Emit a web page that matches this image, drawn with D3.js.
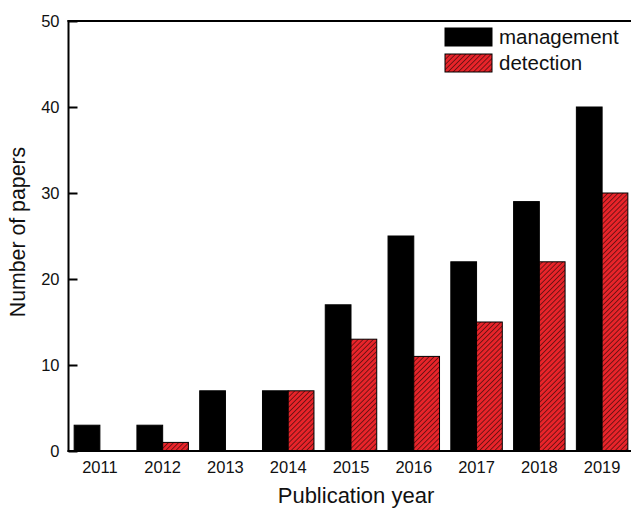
<!DOCTYPE html>
<html>
<head>
<meta charset="utf-8">
<script src="https://cdn.jsdelivr.net/npm/d3@7"></script>
<style>
  html, body { margin: 0; padding: 0; background: #fff; }
  svg { display: block; font-family: "Liberation Sans", Arial, sans-serif; }
</style>
</head>
<body>
<svg id="chart" width="631" height="508"></svg>
<script>
// Publication counts per year
const years = ["2011", "2012", "2013", "2014", "2015", "2016", "2017", "2018", "2019"];
const management = [3, 3, 7, 7, 17, 25, 22, 29, 40];
const detection = [0, 1, 0, 7, 13, 11, 15, 22, 30];
const seriesNames = ["management", "detection"];
const yTicks = [0, 10, 20, 30, 40, 50];

const rows = years.map((y, i) => ({ year: y, management: management[i], detection: detection[i] }));

const svg = d3.select("#chart");
const plot = { left: 68.5, right: 633.5, top: 21, bottom: 451 };

// Hatched red fill for the detection series
const defs = svg.append("defs");
const pat = defs.append("pattern")
  .attr("id", "hatch")
  .attr("patternUnits", "userSpaceOnUse")
  .attr("width", 3.6).attr("height", 3.6)
  .attr("patternTransform", "rotate(45)");
pat.append("rect").attr("width", 3.6).attr("height", 3.6).attr("fill", "#e8242a");
pat.append("line").attr("x1", 0).attr("y1", 0).attr("x2", 0).attr("y2", 3.6)
  .attr("stroke", "#3a0a0a").attr("stroke-width", 1.3);

const x = d3.scaleBand().domain(years).range([plot.left, plot.right])
  .paddingInner(0.18).paddingOuter(0.09);
const xs = d3.scaleBand().domain(seriesNames).range([0, x.bandwidth()]);
const y = d3.scaleLinear().domain([0, 50]).range([plot.bottom, plot.top]);

const fills = { management: "#000", detection: "url(#hatch)" };

// Bars
const groups = svg.append("g").selectAll("g").data(rows).join("g")
  .attr("transform", d => `translate(${x(d.year)},0)`);
groups.selectAll("rect")
  .data(d => seriesNames.map(k => ({ key: k, value: d[k] })).filter(v => v.value > 0))
  .join("rect")
  .attr("x", d => xs(d.key))
  .attr("y", d => y(d.value))
  .attr("width", xs.bandwidth())
  .attr("height", d => y(0) - y(d.value))
  .attr("fill", d => fills[d.key])
  .attr("stroke", "#000")
  .attr("stroke-width", 1);

// Frame: left axis, top and bottom lines
const frame = svg.append("g").attr("stroke", "#000").attr("stroke-width", 2).attr("fill", "none");
frame.append("line").attr("x1", plot.left).attr("x2", plot.left).attr("y1", plot.top - 1).attr("y2", plot.bottom + 1);
frame.append("line").attr("x1", plot.left - 1).attr("x2", 640).attr("y1", plot.top).attr("y2", plot.top);
frame.append("line").attr("x1", plot.left - 1).attr("x2", 640).attr("y1", plot.bottom).attr("y2", plot.bottom);

// Y axis with inward ticks
const yAxis = d3.axisLeft(y).tickValues(yTicks).tickSizeInner(-9).tickSizeOuter(0).tickPadding(9);
const yg = svg.append("g").attr("transform", `translate(${plot.left},0)`).call(yAxis);
yg.select(".domain").remove();
yg.selectAll(".tick line").attr("stroke", "#000").attr("stroke-width", 2);
yg.selectAll(".tick text").attr("font-size", 16.5).attr("fill", "#111")
  .attr("font-family", "Liberation Sans, Arial, sans-serif");

// X axis labels
const xAxis = d3.axisBottom(x).tickSize(0).tickPadding(10);
const xg = svg.append("g").attr("transform", `translate(0,${plot.bottom})`).call(xAxis);
xg.select(".domain").remove();
xg.selectAll(".tick text").attr("font-size", 16.5).attr("fill", "#111")
  .attr("font-family", "Liberation Sans, Arial, sans-serif");

// Axis titles
svg.append("text").attr("x", 356).attr("y", 503).attr("text-anchor", "middle")
  .attr("font-size", 22).attr("fill", "#111").text("Publication year");
svg.append("text").attr("transform", "translate(25,232) rotate(-90)").attr("text-anchor", "middle")
  .attr("font-size", 21.3).attr("fill", "#111").text("Number of papers");

// Legend
const legend = svg.append("g");
seriesNames.forEach((k, i) => {
  legend.append("rect").attr("x", 445).attr("y", 28 + i * 26).attr("width", 47).attr("height", 18)
    .attr("fill", fills[k]).attr("stroke", "#000").attr("stroke-width", 1);
  legend.append("text").attr("x", 499).attr("y", 44 + i * 26)
    .attr("font-size", 20.5).attr("fill", "#111").text(k);
});
</script>
</body>
</html>
